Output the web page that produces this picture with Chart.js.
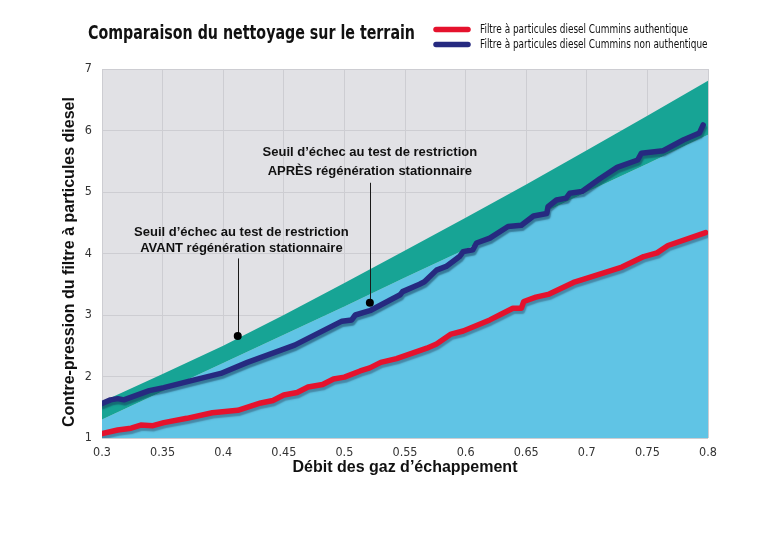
<!DOCTYPE html>
<html><head><meta charset="utf-8">
<script src="https://cdn.jsdelivr.net/npm/chart.js@4/dist/chart.umd.min.js"></script>
<style>html,body{margin:0;padding:0;background:#fff;overflow:hidden}</style>
</head><body>
<canvas id="c" width="774" height="538"></canvas>
<script>
// ---- data ----
const xTickValues = [0.3,0.35,0.4,0.45,0.5,0.55,0.6,0.65,0.7,0.75,0.8];
const xTickLabels = ['0.3','0.35','0.4','0.45','0.5','0.55','0.6','0.65','0.7','0.75','0.8'];
const yTickValues = [1,2,3,4,5,6,7];

const thresholdX      = [0.3,0.35,0.4,0.45,0.5,0.55,0.6,0.65,0.7,0.75,0.8];
const beforeThreshold = [1.59,2.04,2.50,3.00,3.52,4.05,4.58,5.12,5.68,6.24,6.81];
const afterThreshold  = [1.30,1.76,2.22,2.68,3.14,3.61,4.07,4.53,5.00,5.46,5.93];

const genuineX = [0.300,0.313,0.324,0.332,0.342,0.351,0.370,0.391,0.412,0.431,0.441,0.450,0.461,0.470,0.482,0.491,0.500,0.513,0.521,0.530,0.543,0.568,0.576,0.588,0.598,0.620,0.628,0.639,0.646,0.648,0.658,0.669,0.689,0.697,0.729,0.747,0.758,0.767,0.798];
const genuineY = [1.07,1.13,1.16,1.21,1.20,1.25,1.32,1.41,1.45,1.57,1.61,1.70,1.74,1.83,1.87,1.96,1.99,2.09,2.14,2.23,2.29,2.46,2.53,2.69,2.74,2.92,3.00,3.11,3.11,3.22,3.29,3.34,3.53,3.58,3.78,3.95,4.01,4.13,4.34];

const nonGenuineX = [0.300,0.307,0.313,0.318,0.339,0.351,0.373,0.398,0.420,0.459,0.498,0.506,0.509,0.521,0.546,0.548,0.562,0.566,0.576,0.584,0.595,0.598,0.606,0.609,0.620,0.635,0.646,0.656,0.667,0.668,0.675,0.683,0.686,0.696,0.711,0.725,0.742,0.745,0.763,0.780,0.793,0.796];
const nonGenuineY = [1.56,1.62,1.64,1.62,1.77,1.82,1.93,2.05,2.23,2.51,2.90,2.92,3.00,3.07,3.33,3.38,3.50,3.54,3.73,3.79,3.95,4.03,4.06,4.17,4.25,4.44,4.46,4.61,4.65,4.76,4.87,4.90,4.98,5.01,5.22,5.40,5.52,5.63,5.67,5.85,5.96,6.09];

const seriesNames = ['Filtre à particules diesel Cummins authentique','Filtre à particules diesel Cummins non authentique'];
const chartTitle = 'Comparaison du nettoyage sur le terrain';
const xTitle = 'Débit des gaz d’échappement';
const yTitle = 'Contre-pression du filtre à particules diesel';
const notes = [
  {lines:['Seuil d’échec au test de restriction','AVANT régénération stationnaire'], tx:0.415, ty:[4.35,4.08], lineTop:3.92, px:0.412, py:2.66},
  {lines:['Seuil d’échec au test de restriction','APRÈS régénération stationnaire'], tx:0.521, ty:[5.65,5.34], lineTop:5.15, px:0.521, py:3.20}
];

// ---- styles ----
const RED = '#e5122d', NAVY = '#262a80', TEAL = '#17a495', LBLUE = '#60c4e5', BG = '#e1e1e5', GRID = '#cdcdd2';
const NARROW = "'Liberation Sans Narrow','DejaVu Sans Condensed','Arial Narrow',sans-serif";
const SANS = "'Liberation Sans',Arial,Helvetica,sans-serif";

const zip = (xs, ys) => xs.map((x,i)=>({x, y: ys[i]}));

const bgPlugin = {
  id:'bg',
  beforeDraw(chart){
    const {ctx, chartArea:a} = chart;
    ctx.save();
    ctx.fillStyle = '#ffffff';
    ctx.fillRect(0,0,chart.width,chart.height);
    ctx.fillStyle = BG;
    ctx.fillRect(a.left, a.top, a.right-a.left, a.bottom-a.top);
    ctx.restore();
  }
};

const shadowPlugin = {
  id:'lineShadow',
  beforeDatasetDraw(chart, args){
    const ds = chart.data.datasets[args.index];
    if (!ds._shadow) return;
    const ctx = chart.ctx;
    ctx.save();
    ctx.shadowColor = ds._shadow;
    ctx.shadowOffsetX = 1;
    ctx.shadowOffsetY = 3;
    ctx.shadowBlur = 1.5;
  },
  afterDatasetDraw(chart, args){
    const ds = chart.data.datasets[args.index];
    if (!ds._shadow) return;
    chart.ctx.restore();
  }
};

function fitText(ctx, text, x, y, targetW){
  const w = ctx.measureText(text).width;
  ctx.save();
  ctx.translate(x, y);
  ctx.scale(targetW / w, 1);
  ctx.textAlign = 'left';
  ctx.fillText(text, 0, 0);
  ctx.restore();
}

const textPlugin = {
  id:'texts',
  afterDatasetsDraw(chart){
    const {ctx, scales:{x, y}} = chart;
    ctx.save();
    notes.forEach(n=>{
      const px = x.getPixelForValue(n.px), py = y.getPixelForValue(n.py);
      const top = y.getPixelForValue(n.lineTop);
      ctx.strokeStyle = '#1a1a1a'; ctx.lineWidth = 1;
      ctx.beginPath(); ctx.moveTo(Math.round(px)+0.5, top); ctx.lineTo(Math.round(px)+0.5, py); ctx.stroke();
      ctx.fillStyle = '#000';
      ctx.beginPath(); ctx.arc(px, py, 4, 0, Math.PI*2); ctx.fill();
      ctx.font = `bold 13px ${SANS}`;
      ctx.fillStyle = '#111';
      ctx.textAlign = 'center'; ctx.textBaseline = 'middle';
      n.lines.forEach((t,i)=> ctx.fillText(t, x.getPixelForValue(n.tx), y.getPixelForValue(n.ty[i])));
    });
    ctx.restore();
  },
  afterDraw(chart){
    const {ctx, chartArea:a} = chart;
    ctx.save();
    ctx.fillStyle = '#111';
    ctx.textBaseline = 'middle';
    // title
    ctx.font = `bold 20px ${NARROW}`;
    fitText(ctx, chartTitle, 88, 34, 327);
    // legend
    const cols = [RED, NAVY], ly = [29.5, 44.5];
    ctx.font = `12px ${NARROW}`;
    const sx = 208 / ctx.measureText(seriesNames[0]).width;
    seriesNames.forEach((s,i)=>{
      ctx.strokeStyle = cols[i]; ctx.lineWidth = 5.5; ctx.lineCap = 'round';
      ctx.beginPath(); ctx.moveTo(436, ly[i]); ctx.lineTo(468, ly[i]); ctx.stroke();
      ctx.fillStyle = '#111';
      fitText(ctx, s, 480, ly[i]+0.5, ctx.measureText(s).width * sx);
    });
    // axis titles
    ctx.font = `bold 16px ${SANS}`;
    ctx.textAlign = 'center';
    ctx.fillText(xTitle, (a.left+a.right)/2, 468);
    ctx.save();
    ctx.translate(70, 262);
    ctx.rotate(-Math.PI/2);
    ctx.fillText(yTitle, 0, 0);
    ctx.restore();
    ctx.restore();
  }
};

new Chart(document.getElementById('c'), {
  type:'scatter',
  data:{
    datasets:[
      {label: seriesNames[1], data: zip(nonGenuineX, nonGenuineY), showLine:true, borderColor:NAVY, borderWidth:5.5,
       pointRadius:0, fill:false, order:0, borderCapStyle:'round', borderJoinStyle:'round', _shadow:'rgba(20,60,90,0.55)'},
      {label: seriesNames[0], data: zip(genuineX, genuineY), showLine:true, borderColor:RED, borderWidth:5.5,
       pointRadius:0, fill:false, order:1, borderCapStyle:'round', borderJoinStyle:'round', _shadow:'rgba(50,85,115,0.55)'},
      {label:'before', data: zip(thresholdX, beforeThreshold), showLine:true, borderWidth:0, borderColor:'rgba(0,0,0,0)',
       pointRadius:0, fill:'+1', backgroundColor:TEAL, order:2},
      {label:'after', data: zip(thresholdX, afterThreshold), showLine:true, borderWidth:0, borderColor:'rgba(0,0,0,0)',
       pointRadius:0, fill:'start', backgroundColor:LBLUE, order:3}
    ]
  },
  options:{
    responsive:false, animation:false, devicePixelRatio:1,
    layout:{padding:{top:69, right:66, left:0, bottom:0}},
    plugins:{legend:{display:false}, title:{display:false}, tooltip:{enabled:false}},
    elements:{line:{tension:0}},
    scales:{
      x:{type:'linear', min:0.3, max:0.8,
         afterBuildTicks(s){ s.ticks = xTickValues.map(v=>({value:v})); },
         afterFit(s){ s.height = 100; },
         ticks:{padding:7, color:'#333', font:{family:NARROW, size:12.5},
                callback:(v)=> xTickLabels[xTickValues.indexOf(v)] ?? ''},
         grid:{color:GRID, lineWidth:1, drawTicks:false}, border:{display:false}},
      y:{type:'linear', min:1, max:7,
         afterBuildTicks(s){ s.ticks = yTickValues.map(v=>({value:v})); },
         afterFit(s){ s.width = 102; },
         ticks:{padding:10, color:'#333', font:{family:NARROW, size:12.5}},
         grid:{color:GRID, lineWidth:1, drawTicks:false}, border:{display:false}}
    }
  },
  plugins:[bgPlugin, shadowPlugin, textPlugin]
});
</script>
</body></html>
